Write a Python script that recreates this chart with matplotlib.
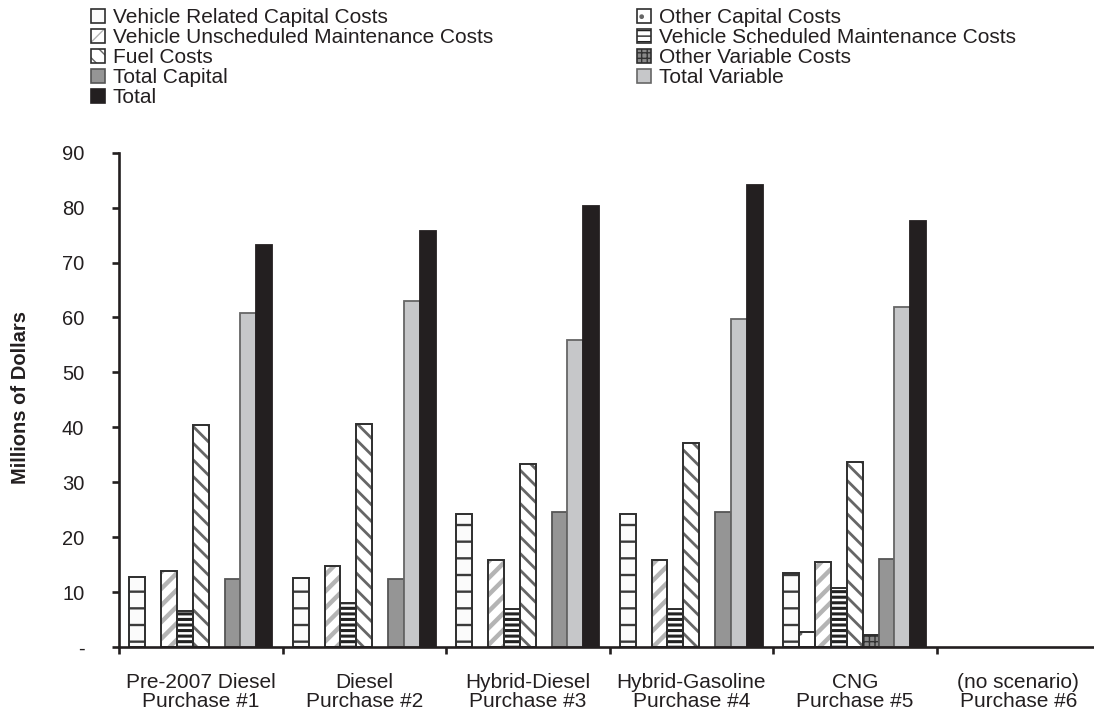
import numpy as np
import matplotlib
matplotlib.use("Agg")
import matplotlib.pyplot as plt
from matplotlib.patches import Patch

plt.rcParams['font.family'] = ['Liberation Sans', 'DejaVu Sans']

# Scenario categories (x axis)
scenarios = [
    "Pre-2007 Diesel\nPurchase #1",
    "Diesel\nPurchase #2",
    "Hybrid-Diesel\nPurchase #3",
    "Hybrid-Gasoline\nPurchase #4",
    "CNG\nPurchase #5",
    "(no scenario)\nPurchase #6",
]

# Cost components, millions of dollars
vehicle_capital = [12.7, 12.6, 24.3, 24.3, 13.4, 0]
other_capital = [0, 0, 0, 0, 2.8, 0]
unscheduled_maint = [13.9, 14.8, 15.8, 15.8, 15.5, 0]
scheduled_maint = [6.5, 8.1, 6.9, 7.0, 10.8, 0]
fuel = [40.4, 40.6, 33.4, 37.2, 33.7, 0]
other_variable = [0, 0, 0, 0, 2.1, 0]
total_capital = [12.4, 12.4, 24.5, 24.5, 16.0, 0]
total_variable = [60.9, 63.0, 55.9, 59.8, 61.9, 0]
total = [73.2, 75.7, 80.3, 84.2, 77.5, 0]

yticks = [0, 10, 20, 30, 40, 50, 60, 70, 80, 90]
ytick_labels = ["-", "10", "20", "30", "40", "50", "60", "70", "80", "90"]

series = [
    ("Vehicle Related Capital Costs", vehicle_capital),
    ("Other Capital Costs", other_capital),
    ("Vehicle Unscheduled Maintenance Costs", unscheduled_maint),
    ("Vehicle Scheduled Maintenance Costs", scheduled_maint),
    ("Fuel Costs", fuel),
    ("Other Variable Costs", other_variable),
    ("Total Capital", total_capital),
    ("Total Variable", total_variable),
    ("Total", total),
]

# Fill / hatch styling per series (same order as above)
styles = [
    dict(face="#fbfbfb", hatch="-", hcolor="#3a3a3a", hlw=1.7, edge="#2e2e2e"),
    dict(face="#ffffff", hatch=".", hcolor="#666666", hlw=1.0, edge="#2e2e2e"),
    dict(face="#ffffff", hatch="//", hcolor="#b4b4b4", hlw=3.2, edge="#2e2e2e"),
    dict(face="#ffffff", hatch="---", hcolor="#222222", hlw=2.2, edge="#2e2e2e"),
    dict(face="#ffffff", hatch="\\\\", hcolor="#666666", hlw=2.0, edge="#2e2e2e"),
    dict(face="#8a8a8a", hatch="+++", hcolor="#333333", hlw=1.0, edge="#2e2e2e"),
    dict(face="#959595", hatch=None, hcolor=None, hlw=0, edge="#555555"),
    dict(face="#c6c7c9", hatch=None, hcolor=None, hlw=0, edge="#666666"),
    dict(face="#231f20", hatch=None, hcolor=None, hlw=0, edge="#231f20"),
]

ink = "#231f20"

fig = plt.figure(figsize=(10.94, 7.14), dpi=100)
ax = fig.add_axes([119 / 1094, 1 - 647 / 714, 981 / 1094, (647 - 152.7) / 714])

n_groups = len(scenarios)
n_series = len(series)
width = 0.097
centers = np.arange(n_groups)


def set_hlw(patch, lw):
    if hasattr(patch, "set_hatch_linewidth"):
        patch.set_hatch_linewidth(lw)


def draw_series(x, values, st):
    vals = np.array(values, dtype=float)
    vals = np.where(vals > 0, vals, np.nan)
    if st["hatch"]:
        with plt.rc_context({"hatch.linewidth": st["hlw"], "hatch.color": st["hcolor"]}):
            bars = ax.bar(x, vals, width, color=st["face"], edgecolor=st["hcolor"],
                          hatch=st["hatch"], linewidth=0, zorder=2)
        for p in bars:
            set_hlw(p, st["hlw"])
        ax.bar(x, vals, width, fill=False, edgecolor=st["edge"], linewidth=1.4, zorder=3)
    else:
        ax.bar(x, vals, width, color=st["face"], edgecolor=st["edge"], linewidth=1.3, zorder=3)


for j, ((name, values), st) in enumerate(zip(series, styles)):
    draw_series(centers + (j - (n_series - 1) / 2) * width, values, st)

ax.set_xlim(-0.5, n_groups - 0.5)
ax.set_ylim(0, 90)

for side in ("top", "right"):
    ax.spines[side].set_visible(False)
for side in ("left", "bottom"):
    ax.spines[side].set_color(ink)
    ax.spines[side].set_linewidth(1.9)
    ax.spines[side].set_zorder(4)

ax.set_yticks(yticks)
ax.set_yticklabels(ytick_labels)
ax.tick_params(axis="y", direction="out", length=5, width=1.9, color=ink,
               labelsize=14.5, labelcolor=ink, pad=20)

# group boundaries as major ticks, scenario names on minor ticks
ax.set_xticks(np.arange(-0.5, n_groups, 1.0))
ax.set_xticklabels([])
ax.tick_params(axis="x", which="major", direction="out", length=5, width=1.9, color=ink)
ax.set_xticks(centers, minor=True)
ax.set_xticklabels(scenarios, minor=True, fontsize=15, color=ink, linespacing=0.95)
ax.tick_params(axis="x", which="minor", length=0, pad=19)

fig.text(21 / 1094, 1 - 397 / 714, "Millions of Dollars", rotation=90,
         ha="center", va="center", fontsize=14.5, fontweight="bold", color=ink)


def proxy(st):
    if st["hatch"]:
        with plt.rc_context({"hatch.linewidth": st["hlw"], "hatch.color": st["hcolor"]}):
            h = Patch(facecolor=st["face"], edgecolor=st["hcolor"], hatch=st["hatch"], linewidth=0)
        set_hlw(h, st["hlw"])
        o = Patch(facecolor="none", edgecolor=st["edge"], linewidth=1.2)
        return (h, o)
    return Patch(facecolor=st["face"], edgecolor=st["edge"], linewidth=1.2)


left_idx = [0, 2, 4, 6, 8]
right_idx = [1, 3, 5, 7]
common = dict(loc="upper left", frameon=False, fontsize=15, handlelength=0.65,
              handleheight=0.65, handletextpad=0.4, labelspacing=0.05,
              borderpad=0, borderaxespad=0, labelcolor=ink)
fig.legend([proxy(styles[i]) for i in left_idx], [series[i][0] for i in left_idx],
           bbox_to_anchor=(91 / 1094, 1 - 8 / 714), **common)
fig.legend([proxy(styles[i]) for i in right_idx], [series[i][0] for i in right_idx],
           bbox_to_anchor=(637 / 1094, 1 - 8 / 714), **common)

fig.savefig("out.png", dpi=100)
